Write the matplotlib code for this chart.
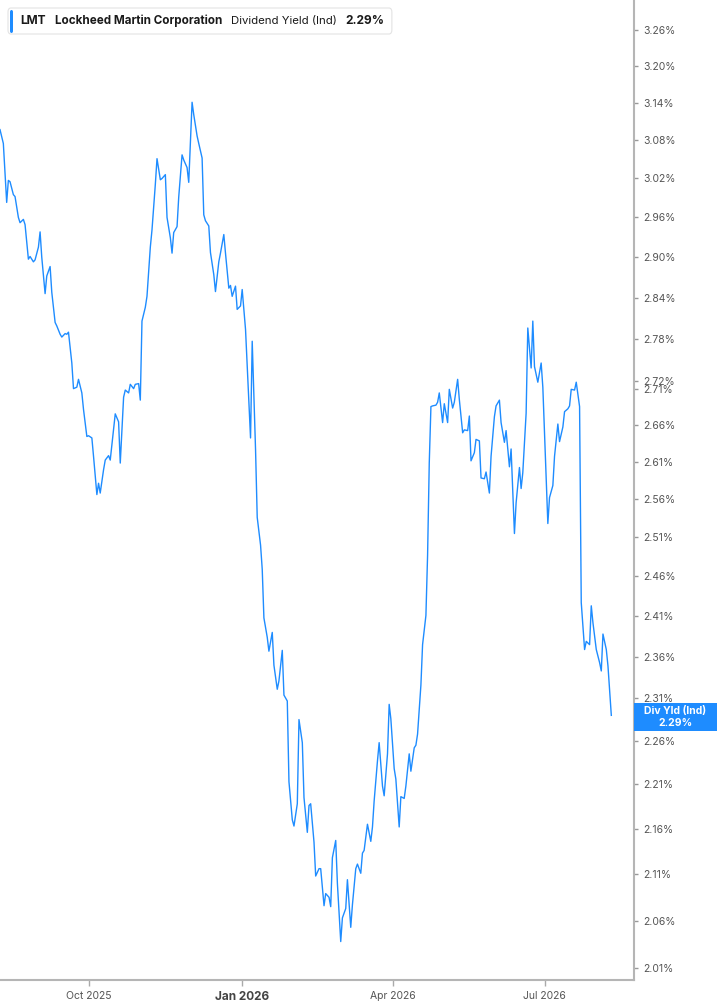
import matplotlib
matplotlib.use("Agg")
import pandas as pd
import matplotlib.pyplot as plt
from matplotlib.patches import FancyBboxPatch, Rectangle
from matplotlib.ticker import FixedLocator, NullLocator, FuncFormatter

plt.rcParams['font.family'] = ['Inter', 'DejaVu Sans']

## Data
dates = [
    "2025-08-09", "2025-08-11", "2025-08-13", "2025-08-14", "2025-08-15", "2025-08-17", "2025-08-18",
    "2025-08-20", "2025-08-21", "2025-08-23", "2025-08-24", "2025-08-26", "2025-08-27", "2025-08-29",
    "2025-08-30", "2025-09-01", "2025-09-02", "2025-09-03", "2025-09-05", "2025-09-06", "2025-09-08",
    "2025-09-09", "2025-09-11", "2025-09-12", "2025-09-14", "2025-09-15", "2025-09-17", "2025-09-18",
    "2025-09-19", "2025-09-21", "2025-09-22", "2025-09-24", "2025-09-25", "2025-09-27", "2025-09-28",
    "2025-09-30", "2025-10-01", "2025-10-03", "2025-10-04", "2025-10-06", "2025-10-07", "2025-10-08",
    "2025-10-10", "2025-10-11", "2025-10-13", "2025-10-14", "2025-10-16", "2025-10-17", "2025-10-19",
    "2025-10-20", "2025-10-22", "2025-10-23", "2025-10-25", "2025-10-26", "2025-10-28", "2025-10-29",
    "2025-10-31", "2025-11-01",
    "2025-11-02", "2025-11-04", "2025-11-05", "2025-11-07", "2025-11-08", "2025-11-10", "2025-11-11",
    "2025-11-13", "2025-11-14", "2025-11-16", "2025-11-17", "2025-11-19", "2025-11-20", "2025-11-21",
    "2025-11-23", "2025-11-24", "2025-11-26", "2025-11-27", "2025-11-29", "2025-11-30", "2025-12-02",
    "2025-12-03", "2025-12-05", "2025-12-06", "2025-12-08", "2025-12-09", "2025-12-10", "2025-12-12",
    "2025-12-13", "2025-12-15", "2025-12-16", "2025-12-18", "2025-12-19", "2025-12-21", "2025-12-22",
    "2025-12-24", "2025-12-25", "2025-12-26", "2025-12-28", "2025-12-29", "2025-12-31", "2026-01-01",
    "2026-01-03",
    "2026-01-06", "2026-01-07", "2026-01-09", "2026-01-10", "2026-01-12", "2026-01-13", "2026-01-14",
    "2026-01-16", "2026-01-17", "2026-01-19", "2026-01-20", "2026-01-22", "2026-01-23", "2026-01-25",
    "2026-01-26", "2026-01-28", "2026-01-29", "2026-01-31", "2026-02-01", "2026-02-03", "2026-02-04",
    "2026-02-06", "2026-02-07", "2026-02-09", "2026-02-10", "2026-02-11", "2026-02-13", "2026-02-14",
    "2026-02-16", "2026-02-17", "2026-02-19", "2026-02-20", "2026-02-22",
    "2026-02-23", "2026-02-24", "2026-02-26", "2026-02-27", "2026-03-01", "2026-03-02", "2026-03-04",
    "2026-03-05", "2026-03-07", "2026-03-08", "2026-03-10", "2026-03-11", "2026-03-13", "2026-03-14",
    "2026-03-15", "2026-03-17", "2026-03-19", "2026-03-20", "2026-03-21", "2026-03-23", "2026-03-24",
    "2026-03-26", "2026-03-27", "2026-03-29", "2026-03-30", "2026-03-31", "2026-04-02", "2026-04-03",
    "2026-04-05", "2026-04-06", "2026-04-08", "2026-04-09", "2026-04-11", "2026-04-12", "2026-04-14",
    "2026-04-15", "2026-04-16", "2026-04-18", "2026-04-19", "2026-04-21", "2026-04-22", "2026-04-23",
    "2026-04-24", "2026-04-25", "2026-04-27", "2026-04-28", "2026-04-29",
    "2026-05-01", "2026-05-02", "2026-05-04", "2026-05-05", "2026-05-07", "2026-05-08", "2026-05-10",
    "2026-05-11", "2026-05-13", "2026-05-14", "2026-05-16", "2026-05-17", "2026-05-18", "2026-05-20",
    "2026-05-21", "2026-05-23", "2026-05-24", "2026-05-26", "2026-05-27", "2026-05-29", "2026-05-30",
    "2026-06-01", "2026-06-02", "2026-06-04", "2026-06-05", "2026-06-07", "2026-06-08", "2026-06-10",
    "2026-06-11", "2026-06-13", "2026-06-14", "2026-06-16", "2026-06-17", "2026-06-18", "2026-06-20",
    "2026-06-21", "2026-06-23", "2026-06-24", "2026-06-25",
    "2026-06-27", "2026-06-29", "2026-06-30", "2026-07-01", "2026-07-03", "2026-07-04", "2026-07-06",
    "2026-07-07", "2026-07-09", "2026-07-10", "2026-07-12", "2026-07-13", "2026-07-15", "2026-07-16",
    "2026-07-17", "2026-07-19", "2026-07-20", "2026-07-22", "2026-07-23", "2026-07-25", "2026-07-26",
    "2026-07-28", "2026-07-29", "2026-07-30", "2026-08-01", "2026-08-03", "2026-08-04", "2026-08-05",
    "2026-08-07", "2026-08-08", "2026-08-10",
]

div_yield = [
    3.097, 3.075, 2.983, 3.017, 3.015, 2.995, 2.992,
    2.960, 2.952, 2.957, 2.949, 2.897, 2.901, 2.893,
    2.896, 2.915, 2.938, 2.900, 2.846, 2.872, 2.886,
    2.848, 2.804, 2.799, 2.787, 2.783, 2.788, 2.787,
    2.790, 2.746, 2.710, 2.712, 2.723, 2.704, 2.681,
    2.644, 2.645, 2.642, 2.617, 2.566, 2.581, 2.568,
    2.599, 2.612, 2.618, 2.612, 2.653, 2.675, 2.664,
    2.608, 2.698, 2.708, 2.704, 2.716, 2.710, 2.716,
    2.717, 2.694,
    2.806, 2.826, 2.842, 2.915, 2.941, 3.011, 3.051,
    3.018, 3.020, 3.026, 2.960, 2.929, 2.906, 2.937,
    2.946, 2.991, 3.057, 3.049, 3.037, 3.014, 3.141,
    3.121, 3.087, 3.075, 3.052, 2.964, 2.955, 2.947,
    2.907, 2.874, 2.849, 2.893, 2.906, 2.934, 2.906,
    2.854, 2.858, 2.842, 2.857, 2.823, 2.828, 2.852,
    2.794,
    2.642, 2.777, 2.626, 2.536, 2.500, 2.469, 2.408,
    2.384, 2.367, 2.390, 2.350, 2.321, 2.331, 2.368,
    2.314, 2.307, 2.213, 2.170, 2.163, 2.188, 2.285,
    2.258, 2.195, 2.156, 2.186, 2.188, 2.145, 2.108,
    2.116, 2.116, 2.076, 2.089, 2.085,
    2.075, 2.128, 2.147, 2.100, 2.038, 2.063, 2.073,
    2.104, 2.053, 2.077, 2.116, 2.121, 2.111, 2.133,
    2.136, 2.165, 2.146, 2.162, 2.191, 2.237, 2.258,
    2.208, 2.197, 2.245, 2.303, 2.286, 2.228, 2.216,
    2.162, 2.196, 2.194, 2.208, 2.245, 2.225, 2.252,
    2.255, 2.268, 2.326, 2.375, 2.411, 2.487, 2.608,
    2.685, 2.686, 2.687, 2.691, 2.704,
    2.663, 2.689, 2.663, 2.709, 2.683, 2.691, 2.723,
    2.695, 2.649, 2.653, 2.652, 2.672, 2.611, 2.622,
    2.640, 2.638, 2.588, 2.587, 2.596, 2.568, 2.617,
    2.671, 2.686, 2.694, 2.663, 2.636, 2.652, 2.603,
    2.627, 2.515, 2.555, 2.602, 2.574, 2.595, 2.676,
    2.796, 2.739, 2.806, 2.741,
    2.719, 2.746, 2.712, 2.649, 2.528, 2.562, 2.578,
    2.617, 2.661, 2.637, 2.657, 2.678, 2.682, 2.686,
    2.709, 2.708, 2.719, 2.685, 2.427, 2.369, 2.379,
    2.375, 2.423, 2.402, 2.369, 2.353, 2.343, 2.388,
    2.369, 2.349, 2.290,
]

y_ticks = [3.26, 3.20, 3.14, 3.08, 3.02, 2.96, 2.90, 2.84, 2.78, 2.72, 2.71, 2.66, 2.61,
           2.56, 2.51, 2.46, 2.41, 2.36, 2.31, 2.26, 2.21, 2.16, 2.11, 2.06, 2.01]
x_ticks = ["2025-10-01", "2026-01-01", "2026-04-01", "2026-07-01"]
x_tick_labels = ["Oct 2025", "Jan 2026", "Apr 2026", "Jul 2026"]

ticker = "LMT"
company = "Lockheed Martin Corporation"
metric = "Dividend Yield (Ind)"
short_metric = "Div Yld (Ind)"
last_value = div_yield[-1]

BLUE = "#1e8cff"
W, H = 717, 1005

def fx(x):
    return x / W

def fy(y):
    return 1 - y / H

## Figure
fig = plt.figure(figsize=(W / 100, H / 100), dpi=100)
ax = fig.add_axes([0, fy(980), fx(634), 1 - fy(980)])

ax.plot(pd.to_datetime(dates), div_yield, color=BLUE, lw=1.0)

ax.set_yscale("log")
ax.set_ylim(1.998, 3.311)
ax.set_xlim(pd.Timestamp("2025-08-09"), pd.Timestamp("2026-08-23 14:00"))

# right hand axis
ax.yaxis.tick_right()
ax.yaxis.set_major_locator(FixedLocator(y_ticks))
ax.yaxis.set_minor_locator(NullLocator())
ax.yaxis.set_major_formatter(FuncFormatter(lambda v, p: "{:.2f}%".format(v)))
ax.tick_params(axis="y", which="both", direction="out", length=3, width=1,
               color="#999999", labelcolor="#555555", labelsize=7.5, pad=4)

ax.set_xticks(pd.to_datetime(x_ticks))
ax.set_xticklabels(x_tick_labels)
ax.tick_params(axis="x", direction="out", length=4, width=1, color="#aaaaaa",
               labelcolor="#555555", labelsize=7.5, pad=4)
ax.get_xticklabels()[1].set_fontweight("bold")
ax.get_xticklabels()[1].set_color("#444444")
ax.get_xticklabels()[1].set_fontsize(8.5)

for side in ["left", "top"]:
    ax.spines[side].set_visible(False)
for side in ["right", "bottom"]:
    ax.spines[side].set_color("#b5b5b5")
    ax.spines[side].set_linewidth(1.5)

## Legend header in the top left
renderer = fig.canvas.get_renderer()
parts = [(ticker, "bold", 8.6), (company, "bold", 8.4), (metric, "normal", 8.2),
         ("{:.2f}%".format(last_value), "bold", 8.6)]
xpos = 20
for txt, wt, fs in parts:
    t = fig.text(fx(xpos), fy(21), txt, fontsize=fs, fontweight=wt, color="#1a1a1a",
                 va="center", ha="left", zorder=5)
    bb = t.get_window_extent(renderer)
    xpos = bb.x1 + 9
box_right = xpos - 9 + 7
fig.add_artist(FancyBboxPatch((fx(8), fy(34)), fx(box_right - 8), fy(8) - fy(34),
                              boxstyle="round,pad=0,rounding_size=0.004",
                              transform=fig.transFigure, facecolor="white",
                              edgecolor="#e3e3e3", lw=0.8, zorder=3))
fig.add_artist(FancyBboxPatch((fx(10), fy(33)), fx(3), fy(10) - fy(33),
                              boxstyle="round,pad=0,rounding_size=0.002",
                              transform=fig.transFigure, facecolor=BLUE,
                              edgecolor="none", zorder=4))

## Last value tag on the right axis
y_last = ax.transData.transform((0, last_value))[1]
tag_h = 28
fig.add_artist(Rectangle((fx(634), (y_last - tag_h / 2 - 2) / H), fx(W - 634), tag_h / H,
                         transform=fig.transFigure, facecolor=BLUE, edgecolor="none", zorder=4))
tag_cx = fx((634 + W) / 2)
fig.text(tag_cx, (y_last + 4) / H, short_metric, fontsize=7.5, fontweight="bold",
         color="white", ha="center", va="center", zorder=5)
fig.text(tag_cx, (y_last - 8) / H, "{:.2f}%".format(last_value), fontsize=7.5,
         fontweight="bold", color="white", ha="center", va="center", zorder=5)

fig.savefig("out.png", dpi=100)
